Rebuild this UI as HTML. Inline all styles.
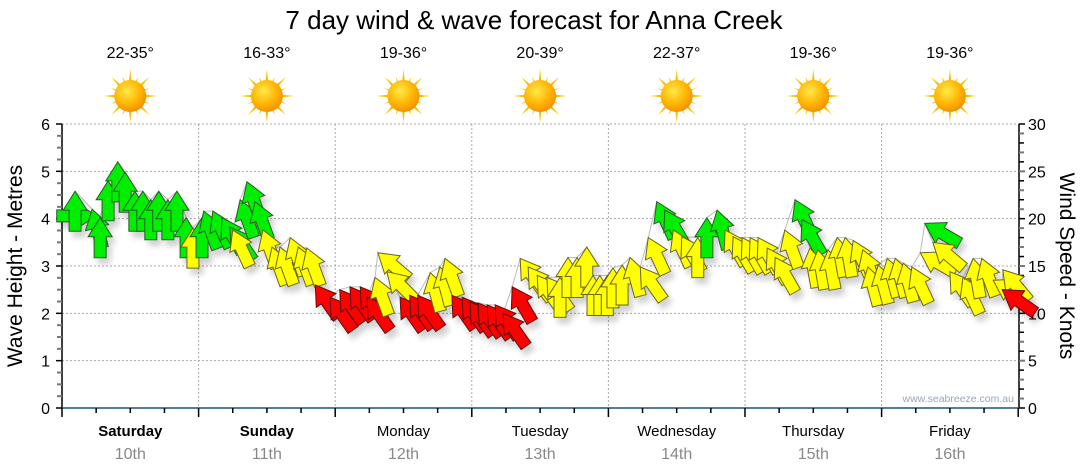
<!DOCTYPE html>
<html><head><meta charset="utf-8">
<style>
html,body{margin:0;padding:0;background:#fff;}
svg{display:block;font-family:"Liberation Sans","DejaVu Sans",sans-serif;}
</style></head>
<body>
<svg id="chart" width="1080" height="475" viewBox="0 0 1080 475" xmlns="http://www.w3.org/2000/svg">
<defs>
  <filter id="shadow" x="-50%" y="-50%" width="200%" height="200%">
    <feGaussianBlur in="SourceAlpha" stdDeviation="3"/>
    <feOffset dx="4" dy="6" result="b"/>
    <feComponentTransfer><feFuncA type="linear" slope="0.18"/></feComponentTransfer>
    <feMerge><feMergeNode/><feMergeNode in="SourceGraphic"/></feMerge>
  </filter>
  <radialGradient id="sunG" cx="0.4" cy="0.35" r="0.7">
    <stop offset="0" stop-color="#ffe94a"/>
    <stop offset="0.6" stop-color="#ffb300"/>
    <stop offset="1" stop-color="#f08c00"/>
  </radialGradient>
  <linearGradient id="rayG" x1="0" y1="0" x2="0" y2="1">
    <stop offset="0" stop-color="#ffd200"/>
    <stop offset="1" stop-color="#d89a30"/>
  </linearGradient>
</defs>
<text x="534" y="29" font-size="26" text-anchor="middle" fill="#000">7 day wind &amp; wave forecast for Anna Creek</text>
<g id="header"></g>
<g id="grid"></g>
<g id="axes"></g>
<g id="windline"></g>
<g id="arrows" filter="url(#shadow)"></g>
<text transform="translate(22,266) rotate(-90)" font-size="21" text-anchor="middle">Wave Height - Metres</text>
<text transform="translate(1060,266) rotate(90)" font-size="21" text-anchor="middle">Wind Speed - Knots</text>
<text x="1014" y="402" font-size="10.5" text-anchor="end" fill="#9aa6b8">www.seabreeze.com.au</text>
</svg>
<script>
const dayNames = ["Saturday","Sunday","Monday","Tuesday","Wednesday","Thursday","Friday"];
const dayDates = ["10th","11th","12th","13th","14th","15th","16th"];
const dayBold = [true,true,false,false,false,false,false];
const tempRanges = ["22-35°","16-33°","19-36°","20-39°","22-37°","19-36°","19-36°"];
const waveTicks = [0,1,2,3,4,5,6];
const windTicks = [0,5,10,15,20,25,30];
// wind: hour from start, knots, direction rotation (deg, 0=up), colour class
const windHours = [6.1,2.3,5.3,6.7,8.1,9.8,11.1,12.8,14.2,15.6,17.0,18.6,20.2,21.8,23.0,24.6,24.9,26.5,28.1,29.5,30.0,31.3,32.5,33.9,35.3,36.9,38.3,40.1,41.5,43.0,
44.5,47.1,48.8,50.6,52.4,53.6,55.0,55.5,57.1,59.4,61.1,62.5,64.7,66.4,67.3,68.5,70.3,71.7,73.1,74.7,76.1,77.5,79.1,80.5,81.9,83.5,85.2,
87.5,88.9,90.5,92.2,93.3,94.5,95.8,96.8,98.4,99.8,101.6,103.0,104.5,105.9,107.4,108.9,111.7,113.3,115.1,116.5,117.9,119.5,120.9,122.3,123.9,125.3,
127.0,128.8,130.0,131.4,132.8,134.6,136.2,137.6,139.0,140.7,141.6,143.4,145.0,146.4,147.8,149.3,150.8,151.6,153.0,156.0,158.3,160.1,161.6,163.6,165.3,165.2];
const windKnots = [20.3,22.9,21.0,20.1,24.0,26.0,24.9,22.9,22.9,22.0,22.9,22.0,22.9,20.1,19.0,20.1,20.8,20.8,20.1,19.1,18.8,22.0,23.9,21.8,18.8,17.0,17.0,18.0,17.0,16.9,
13.0,11.7,12.5,12.8,12.8,11.7,13.8,16.4,14.4,11.7,11.9,11.9,14.3,14.9,15.8,11.9,11.7,11.2,11.1,10.9,10.9,10.0,12.8,15.8,14.9,14.0,13.8,
13.8,15.9,15.9,17.0,14.0,14.0,14.0,14.8,15.1,15.9,14.9,18.0,21.8,20.9,18.8,18.1,18.0,20.1,20.9,18.8,18.1,18.0,18.0,18.0,16.9,15.9,
18.8,22.0,19.9,16.9,16.7,16.7,18.0,18.0,17.7,16.7,14.9,15.1,15.8,15.8,15.3,14.9,16.4,19.5,17.5,14.4,13.8,15.8,15.8,13.5,14.6,12.5];
const windDir = [90,0,-15,0,0,0,0,0,0,0,0,0,0,0,0,0,-20,-25,-30,-35,-25,-20,-20,-20,-20,-20,-20,-20,-20,-20,
-35,-35,-35,-35,-35,-35,-20,-50,-45,-35,-35,-35,-15,-15,-20,-35,-35,-35,-35,-35,-35,-35,-30,-35,-35,-35,-35,
0,0,0,0,0,0,0,0,0,-15,-35,-25,-25,-30,-25,-30,0,0,-15,-30,-30,-30,-30,-30,-30,-30,
-20,-25,-30,-10,-10,-10,-10,-10,-25,-20,-15,-15,-15,-15,-15,-25,-60,-60,-50,-35,-25,-10,-20,-60,-40,-55];
const windCol = ["g","g","g","g","g","g","g","g","g","g","g","g","g","g","y","g","g","g","g","g","y","g","g","g","y","y","y","y","y","y",
"r","r","r","r","r","r","y","y","y","r","r","r","y","y","y","r","r","r","r","r","r","r","r","y","y","y","y",
"y","y","y","y","y","y","y","y","y","y","y","y","g","g","y","y","y","g","g","y","y","y","y","y","y","y",
"y","g","g","y","y","y","y","y","y","y","y","y","y","y","y","y","y","g","y","y","y","y","y","y","y","r"];

const NS="http://www.w3.org/2000/svg";
const X0=62, DAYW=136.6, Y0=408, YTOP=124;
function xH(h){return X0+h*DAYW/24;}
function yWave(m){return Y0-(Y0-YTOP)*m/6;}
function yKnots(k){return Y0-(Y0-YTOP)*k/30;}
function mk(tag,attrs,parent){const e=document.createElementNS(NS,tag);for(const k in attrs)e.setAttribute(k,attrs[k]);parent.appendChild(e);return e;}

const header=document.getElementById('header');
for(let d=0;d<7;d++){
  const cx=X0+(d+0.5)*DAYW;
  const t=mk('text',{x:cx,y:58,'font-size':16,'text-anchor':'middle',fill:'#000'},header);
  t.textContent=tempRanges[d];
  
  
  const g=mk('g',{transform:`translate(${cx},96)`},header);
  
  
  for(let r=0;r<16;r++){
    const L=(r%2===0)?27:21;
    mk('polygon',{points:`-3,0 3,0 0,${-L}`,fill:'url(#rayG)',transform:`rotate(${r*22.5})`},g);
  }
  mk('circle',{cx:0,cy:0,r:16,fill:'url(#sunG)'},g);
  const dn=mk('text',{x:cx,y:436,'font-size':15,'text-anchor':'middle',fill:'#000','font-weight':dayBold[d]?'bold':'normal'},header);
  dn.textContent=dayNames[d];
  
  
  const dd=mk('text',{x:cx,y:459,'font-size':16,'text-anchor':'middle',fill:'#888'},header);
  dd.textContent=dayDates[d];
  
  
}

const grid=document.getElementById('grid');
for(const m of waveTicks){ if(m===0) continue;
  mk('line',{x1:X0,x2:1019,y1:yWave(m),y2:yWave(m),stroke:'#aaa','stroke-dasharray':'2,2'},grid);}
for(let d=1;d<7;d++){const x=X0+d*DAYW;
  mk('line',{x1:x,x2:x,y1:YTOP,y2:Y0,stroke:'#aaa','stroke-dasharray':'2,2'},grid);}

const axes=document.getElementById('axes');
mk('line',{x1:X0,x2:X0,y1:YTOP,y2:Y0,stroke:'#000','stroke-width':1.5},axes);
mk('line',{x1:1019,x2:1019,y1:YTOP,y2:Y0,stroke:'#000','stroke-width':1.5},axes);
mk('line',{x1:X0,x2:1019,y1:Y0,y2:Y0,stroke:'#1a5276','stroke-width':1.5},axes);
for(let i=0;i<=24;i++){const m=i/4;const y=yWave(m);
  mk('line',{x1:i%4===0?56:57,x2:X0,y1:y,y2:y,stroke:i%4===0?'#000':'#777','stroke-width':i%4===0?1.5:2},axes);}
for(const m of waveTicks){const t=mk('text',{x:50,y:yWave(m)+6,'font-size':16,'text-anchor':'end',fill:'#000'},axes);t.textContent=m;
  
  }
for(let k=0;k<=30;k++){const y=yKnots(k);
  mk('line',{x1:1019,x2:k%5===0?1025:1024,y1:y,y2:y,stroke:(k%2===0)?'#000':'#777','stroke-width':k%2===0?1.5:2},axes);}
for(const k of windTicks){const t=mk('text',{x:1028,y:yKnots(k)+6,'font-size':16,'text-anchor':'start',fill:'#000'},axes);t.textContent=k;
  
  }
for(let q=0;q<=28;q++){const x=X0+q*DAYW/4;
  mk('line',{x1:x,x2:x,y1:Y0,y2:q%4===0?417:413,stroke:'#000','stroke-width':1.5},axes);}

const order=windHours.map((h,i)=>i).sort((a,b)=>windHours[a]-windHours[b]);
const pts=order.map(i=>xH(windHours[i])+','+yKnots(windKnots[i])).join(' ');
mk('polyline',{points:pts,fill:'none',stroke:'#bbb','stroke-width':1},document.getElementById('windline'));

const colMap={g:'#00ee00',y:'#ffff00',r:'#ff0000'};
const strokeMap={g:'#2a5a2a',y:'#6b6520',r:'#5a1010'};
const arrowsG=document.getElementById('arrows');
for(let i=0;i<windHours.length;i++){
  const x=xH(windHours[i]), y=yKnots(windKnots[i]);
  const p=mk('polygon',{points:'0,0 12,19 6,19 6,40 -6,40 -6,19 -12,19',
    fill:colMap[windCol[i]],stroke:strokeMap[windCol[i]],'stroke-width':1,
    transform:`translate(${x},${y}) rotate(${windDir[i]})`},arrowsG);
  
  
}
</script>
</body></html>
